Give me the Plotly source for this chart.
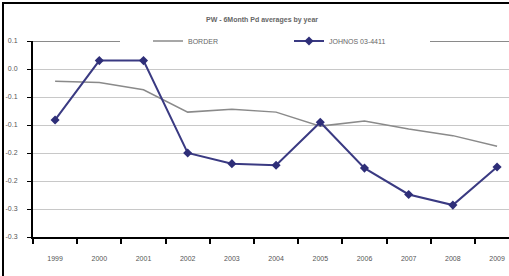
import plotly.graph_objects as go

years = ["1999", "2000", "2001", "2002", "2003", "2004", "2005", "2006", "2007", "2008", "2009"]
border = [0.028, 0.026, 0.013, -0.027, -0.022, -0.027, -0.052, -0.043, -0.057, -0.069, -0.088]
johnos = [-0.041, 0.065, 0.065, -0.100, -0.119, -0.122, -0.045, -0.127, -0.174, -0.193, -0.125]
ytick_vals = [0.1, 0.05, 0.0, -0.05, -0.1, -0.15, -0.2, -0.25]
ytick_text = ["0.1", "0.0", "-0.1", "-0.1", "-0.2", "-0.2", "-0.3", "-0.3"]

xi = list(range(len(years)))

L, T, W, H = 33, 41, 476, 196  # plot area in pixels


def px(x):
    return (x - L) / W


def py(y):
    return 1 - (y - T) / H


fig = go.Figure()
fig.add_trace(go.Scatter(x=xi, y=border, mode="lines", name="BORDER",
                         line=dict(color="#8a8a8a", width=1.5), cliponaxis=False))
fig.add_trace(go.Scatter(x=xi, y=johnos, mode="lines+markers", name="JOHNOS 03-4411",
                         line=dict(color="#3a3a82", width=2), cliponaxis=False,
                         marker=dict(symbol="diamond", size=7, color="#2e2e78")))

fig.update_layout(
    width=509, height=276,
    margin=dict(l=L, r=0, t=T, b=276 - T - H),
    paper_bgcolor="white", plot_bgcolor="white",
    font=dict(family="Liberation Sans, Arial, sans-serif", size=7, color="#555"),
    title=dict(text="<b>PW - 6Month Pd averages by year</b>", xref="paper", x=px(262),
               xanchor="center", yref="container", y=1 - 20 / 276, yanchor="middle",
               font=dict(size=7, color="#666")),
    showlegend=True,
    legend=dict(orientation="h", xref="paper", x=px(148), xanchor="left",
                yref="paper", y=py(41), yanchor="middle",
                bgcolor="rgba(0,0,0,0)", font=dict(size=7, color="#666"), entrywidth=96,
                itemwidth=30),
    xaxis=dict(range=[-0.5, 10.27], tickmode="array", tickvals=xi, ticktext=years,
               ticks="", showgrid=False, showline=True, linecolor="black", linewidth=2,
               zeroline=False, automargin=False, ticklabelstandoff=14,
               minor=dict(ticks="outside", tick0=-0.5, dtick=1, ticklen=5,
                          tickcolor="black", tickwidth=1.5, showgrid=False),
               tickfont=dict(size=7, color="#555")),
    yaxis=dict(range=[-0.25, 0.1], tickmode="array", tickvals=ytick_vals, ticktext=ytick_text,
               ticks="outside", ticklen=4, tickcolor="black", showline=True, linecolor="black",
               linewidth=2, showgrid=True, gridcolor="#c8c8c8", gridwidth=1, zeroline=False,
               automargin=False, ticklabelstandoff=8,
               tickfont=dict(size=7, color="#555")),
)

# top gridline (darker), interrupted by the legend box
for a, b in [(L, 120), (430, 520)]:
    fig.add_shape(type="line", xref="paper", yref="y", x0=px(a), x1=px(b), y0=0.1, y1=0.1,
                  line=dict(color="#8a8a8a", width=2), layer="above")
# white patch hiding the plain gridline under the legend
fig.add_shape(type="rect", xref="paper", yref="paper", x0=px(121), x1=px(429),
              y0=py(40), y1=py(42.5), line=dict(width=0), fillcolor="white", layer="above")
# outer chart border (left and top)
fig.add_shape(type="line", xref="paper", yref="paper", x0=px(3), x1=px(3),
              y0=py(290), y1=py(2), line=dict(color="black", width=2))
fig.add_shape(type="line", xref="paper", yref="paper", x0=px(2), x1=px(520),
              y0=py(3), y1=py(3), line=dict(color="black", width=2))

fig.write_html("out.html", config={"displayModeBar": False},
               post_script="document.body.style.margin='0';window.dispatchEvent(new Event('resize'));")
